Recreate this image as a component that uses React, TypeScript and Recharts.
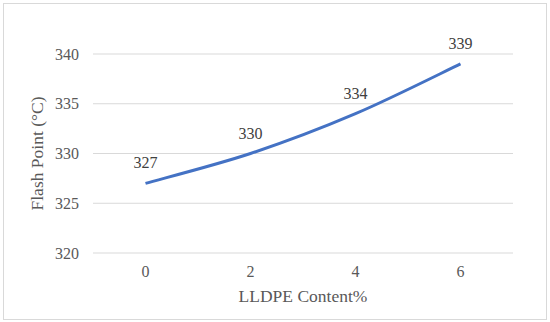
import React from 'react';
import { LineChart, Line, XAxis, YAxis, CartesianGrid, LabelList, Label } from 'recharts';

const lldpeContent = ['0', '2', '4', '6'];
const flashPoint = [327, 330, 334, 339];
const yTicks = [320, 325, 330, 335, 340];

const data = lldpeContent.map((c, i) => ({ content: c, flash: flashPoint[i] }));

const font = "'Liberation Serif', 'Times New Roman', serif";

// Excel-style smoothed line (uniform Catmull-Rom as cubic beziers)
const excelSmooth = (context: any) => {
  let pts: number[][] = [];
  return {
    areaStart() {},
    areaEnd() {},
    lineStart() {
      pts = [];
    },
    point(x: number, y: number) {
      pts.push([+x, +y]);
    },
    lineEnd() {
      if (!pts.length) return;
      context.moveTo(pts[0][0], pts[0][1]);
      for (let i = 0; i < pts.length - 1; i++) {
        const p0 = pts[i - 1] || pts[i];
        const p1 = pts[i];
        const p2 = pts[i + 1];
        const p3 = pts[i + 2] || pts[i + 1];
        context.bezierCurveTo(
          p1[0] + (p2[0] - p0[0]) / 6,
          p1[1] + (p2[1] - p0[1]) / 6,
          p2[0] - (p3[0] - p1[0]) / 6,
          p2[1] - (p3[1] - p1[1]) / 6,
          p2[0],
          p2[1]
        );
      }
    },
  };
};

const App: React.FC = () => {
  return (
    <div style={{ position: 'absolute', left: 0, top: 0, width: 550, height: 322, background: '#fff', fontFamily: font }}>
      <style>{`svg text, .recharts-text { font-family: 'Liberation Serif', 'Times New Roman', serif !important; }`}</style>
      <div style={{ position: 'absolute', left: 3, top: 3, width: 542, height: 315, border: '1px solid #d9d9d9' }} />
      <LineChart width={550} height={322} data={data} margin={{ top: 54, right: 37, bottom: 39, left: 0 }}>
        <CartesianGrid vertical={false} stroke="#d9d9d9" strokeWidth={1} />
        <XAxis
          dataKey="content"
          axisLine={false}
          tickLine={false}
          tickSize={0}
          tickMargin={13}
          height={30}
          padding={{ left: 52.5, right: 52.5 }}
          tick={{ fontSize: 16, fill: '#595959' }}
        >
          <Label value="LLDPE Content%" position="bottom" offset={7} style={{ fontSize: 17.5, fill: '#595959' }} />
        </XAxis>
        <YAxis
          width={93}
          domain={[320, 340]}
          ticks={yTicks}
          axisLine={false}
          tickLine={false}
          tickSize={0}
          tickMargin={14}
          tick={{ fontSize: 16, fill: '#595959' }}
        >
          <Label
            value="Flash Point (°C)"
            angle={-90}
            position="insideLeft"
            offset={37}
            style={{ fontSize: 17.5, fill: '#595959', textAnchor: 'middle' }}
          />
        </YAxis>
        <Line
          type={excelSmooth as any}
          dataKey="flash"
          stroke="#4472c4"
          strokeWidth={3}
          dot={false}
          isAnimationActive={false}
        >
          <LabelList dataKey="flash" position="top" offset={15} style={{ fontSize: 16, fill: '#404040' }} />
        </Line>
      </LineChart>
    </div>
  );
};

export default App;
